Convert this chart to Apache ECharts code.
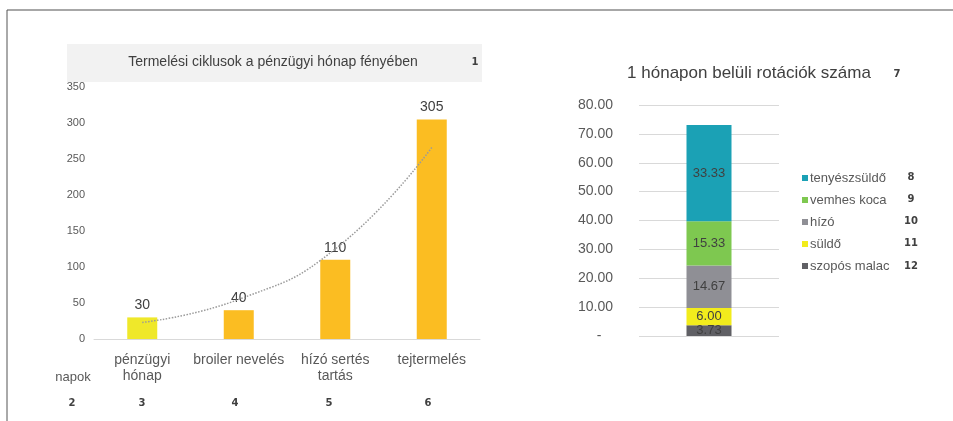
<!DOCTYPE html>
<html><head><meta charset="utf-8">
<script src="https://cdn.jsdelivr.net/npm/echarts@6/dist/echarts.min.js"></script>
<style>html,body{margin:0;padding:0;background:#fff}#c{width:953px;height:421px}</style>
</head><body><div id="c"></div>
<script>
const cycleCategories = ['pénzügyi\nhónap', 'broiler nevelés', 'hízó sertés\ntartás', 'tejtermelés'];
const cycleDays = [30, 40, 110, 305];
const trendValues = [23, 55, 125, 266];
const leftTicks = [0, 50, 100, 150, 200, 250, 300, 350];

const rotCategory = ['rotáció'];
const rotSeriesNames = ['szopós malac', 'süldő', 'hízó', 'vemhes koca', 'tenyészsüldő'];
const szoposMalac = [3.73];
const suldo = [6.00];
const hizo = [14.67];
const vemhesKoca = [15.33];
const tenyeszsuldo = [33.33];
const rightTicks = [0, 10, 20, 30, 40, 50, 60, 70, 80];
const legendOrder = ['tenyészsüldő', 'vemhes koca', 'hízó', 'süldő', 'szopós malac'];

const font = 'Liberation Sans, Arial, sans-serif';
const chart = echarts.init(document.getElementById('c'));
const numStyle = { fontFamily: 'DejaVu Sans, sans-serif', fontSize: 10, fontWeight: 'bold', fill: '#404040', textAlign: 'center', textVerticalAlign: 'middle' };

function stack(name, data, color) {
  return {
    name, type: 'bar', stack: 'r', xAxisIndex: 1, yAxisIndex: 1, data, barWidth: 45,
    itemStyle: { color },
    label: { show: true, position: 'inside', color: '#404040', fontSize: 13, fontFamily: font, formatter: p => p.value.toFixed(2) }
  };
}

chart.setOption({
  animation: false,
  backgroundColor: '#fff',
  graphic: [
    { type: 'line', shape: { x1: 7, y1: 10, x2: 953, y2: 10 }, style: { stroke: '#8a8a8a', lineWidth: 1.5 } },
    { type: 'line', shape: { x1: 7, y1: 10, x2: 7, y2: 421 }, style: { stroke: '#555', lineWidth: 1 } },
    { type: 'rect', z: -1, shape: { x: 67, y: 44, width: 415, height: 38 }, style: { fill: '#f2f2f2' } },
    { type: 'text', x: 273, y: 62, style: { text: 'Termelési ciklusok a pénzügyi hónap fényében', fontFamily: font, fontSize: 14, fill: '#404040', textAlign: 'center', textVerticalAlign: 'middle' } },
    { type: 'text', x: 475, y: 62, style: Object.assign({ text: '1' }, numStyle) },
    { type: 'text', x: 73, y: 377, style: { text: 'napok', fontFamily: font, fontSize: 13, fill: '#595959', textAlign: 'center', textVerticalAlign: 'middle' } },
    { type: 'text', x: 72, y: 403, style: Object.assign({ text: '2' }, numStyle) },
    { type: 'text', x: 142, y: 403, style: Object.assign({ text: '3' }, numStyle) },
    { type: 'text', x: 235, y: 403, style: Object.assign({ text: '4' }, numStyle) },
    { type: 'text', x: 329, y: 403, style: Object.assign({ text: '5' }, numStyle) },
    { type: 'text', x: 428, y: 403, style: Object.assign({ text: '6' }, numStyle) },
    { type: 'text', x: 749, y: 73, style: { text: '1 hónapon belüli rotációk száma', fontFamily: font, fontSize: 17, fill: '#404040', textAlign: 'center', textVerticalAlign: 'middle' } },
    { type: 'text', x: 897, y: 74, style: Object.assign({ text: '7' }, numStyle) },
    { type: 'text', x: 911, y: 177, style: Object.assign({ text: '8' }, numStyle) },
    { type: 'text', x: 911, y: 199, style: Object.assign({ text: '9' }, numStyle) },
    { type: 'text', x: 911, y: 221, style: Object.assign({ text: '10' }, numStyle) },
    { type: 'text', x: 911, y: 243, style: Object.assign({ text: '11' }, numStyle) },
    { type: 'text', x: 911, y: 266, style: Object.assign({ text: '12' }, numStyle) }
  ],
  legend: {
    data: legendOrder, orient: 'vertical', left: 797, top: 166, itemWidth: 6, itemHeight: 6, itemGap: 8,
    icon: 'rect', textStyle: { fontFamily: font, fontSize: 13, color: '#595959', lineHeight: 14, padding: [0, 0, 0, -3] }
  },
  grid: [
    { left: 94, top: 87, width: 386, height: 252 },
    { left: 639, top: 105, width: 140, height: 231 }
  ],
  xAxis: [
    { type: 'category', gridIndex: 0, data: cycleCategories,
      axisLine: { lineStyle: { color: '#d9d9d9' } }, axisTick: { show: false },
      axisLabel: { color: '#595959', fontFamily: font, fontSize: 14, lineHeight: 16, margin: 13, interval: 0 } },
    { type: 'category', gridIndex: 1, data: rotCategory,
      axisLine: { show: false }, axisTick: { show: false }, axisLabel: { show: false } }
  ],
  yAxis: [
    { type: 'value', gridIndex: 0, min: leftTicks[0], max: leftTicks[leftTicks.length - 1], interval: 50,
      axisLine: { show: false }, axisTick: { show: false }, splitLine: { show: false },
      axisLabel: { color: '#595959', fontFamily: font, fontSize: 11, margin: 9 } },
    { type: 'value', gridIndex: 1, min: rightTicks[0], max: rightTicks[rightTicks.length - 1], interval: 10,
      axisLine: { show: false }, axisTick: { show: false },
      splitLine: { lineStyle: { color: '#d9d9d9' } },
      axisLabel: { color: '#595959', fontFamily: font, fontSize: 14, margin: 26, formatter: v => v === 0 ? '-   ' : v.toFixed(2) } }
  ],
  series: [
    { type: 'bar', xAxisIndex: 0, yAxisIndex: 0, barWidth: 30,
      data: cycleDays.map((v, i) => ({ value: v, itemStyle: { color: i === 0 ? '#efe82a' : '#fbbd22' } })),
      label: { show: true, position: 'top', distance: 5, color: '#404040', fontSize: 14, fontFamily: font } },
    { type: 'line', xAxisIndex: 0, yAxisIndex: 0, data: trendValues, smooth: true, symbol: 'none', z: 5,
      lineStyle: { color: '#9a9a9a', width: 1.5, type: 'dotted' } },
    stack('szopós malac', szoposMalac, '#606065'),
    stack('süldő', suldo, '#f2ec1c'),
    stack('hízó', hizo, '#8f8f95'),
    stack('vemhes koca', vemhesKoca, '#7ec850'),
    stack('tenyészsüldő', tenyeszsuldo, '#1ba1b5')
  ]
});
</script></body></html>
